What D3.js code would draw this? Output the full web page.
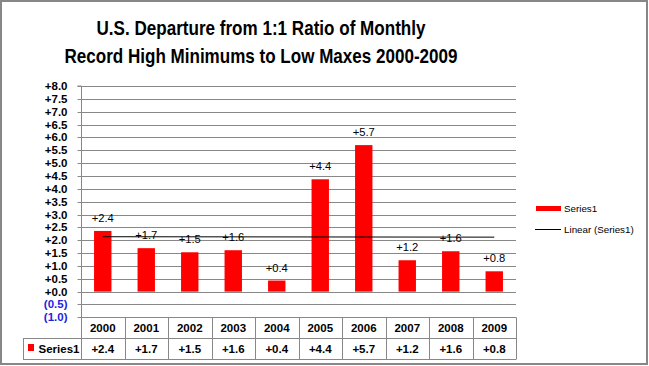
<!DOCTYPE html>
<html>
<head>
<meta charset="utf-8">
<script src="https://cdn.jsdelivr.net/npm/d3@7"></script>
<style>
  html, body { margin: 0; padding: 0; background: #fff; }
  svg { display: block; }
  text { font-family: "Liberation Sans", Arial, sans-serif; }
</style>
</head>
<body>
<svg id="chart" width="649" height="366"></svg>
<script>
// ---- data ----
const years = ["2000","2001","2002","2003","2004","2005","2006","2007","2008","2009"];
const values = [2.36, 1.69, 1.53, 1.61, 0.43, 4.37, 5.70, 1.22, 1.57, 0.79];
const seriesName = "Series1";
const trendName = "Linear (Series1)";
const titleLines = ["U.S. Departure from 1:1 Ratio of Monthly", "Record High Minimums  to Low Maxes 2000-2009"];
const yTicks = [-1, -0.5, 0, 0.5, 1, 1.5, 2, 2.5, 3, 3.5, 4, 4.5, 5, 5.5, 6, 6.5, 7, 7.5, 8];

// ---- layout ----
const svg = d3.select("#chart");
const plotL = 81, plotR = 516, plotT = 86, plotB = 317.3;
const rowH1 = 338, rowH2 = 358.5;
const gridColor = "#888888";
const boldSize = 11.5;

const fmtVal = v => v < 0 ? "(" + Math.abs(v).toFixed(1) + ")" : "+" + v.toFixed(1);

const y = d3.scaleLinear().domain([-1, 8]).range([plotB, plotT]);
const x = d3.scaleBand().domain(years).range([plotL, plotR]).paddingInner(0.6).paddingOuter(0.3);
const col = d3.scaleBand().domain(years).range([plotL, plotR]).padding(0);

// outer border
svg.append("rect").attr("x", 1).attr("y", 1).attr("width", 646).attr("height", 363)
  .attr("fill", "#fff").attr("stroke", "#878787").attr("stroke-width", 2);

// title
svg.append("g").selectAll("text").data(titleLines).join("text")
  .attr("x", 261).attr("y", (d, i) => 34.5 + i * 28.5)
  .attr("text-anchor", "middle")
  .attr("font-size", 20.5).attr("font-weight", "bold").attr("fill", "#000")
  .attr("textLength", (d, i) => i === 0 ? 329 : 393)
  .attr("lengthAdjust", "spacingAndGlyphs")
  .text(d => d);

// gridlines
svg.append("g").selectAll("line").data(yTicks).join("line")
  .attr("x1", plotL).attr("x2", plotR)
  .attr("y1", d => Math.round(y(d)) + 0.5).attr("y2", d => Math.round(y(d)) + 0.5)
  .attr("stroke", gridColor).attr("stroke-width", 1);

// y axis
const yAxis = d3.axisLeft(y).tickValues(yTicks).tickSize(4).tickPadding(10).tickFormat(fmtVal);
const gy = svg.append("g").attr("transform", `translate(${plotL + 0.5},0)`).call(yAxis);
gy.select(".domain").attr("stroke", gridColor).attr("d", `M-4,${y(8)}H0V${plotB}`);
gy.selectAll(".tick line").attr("stroke", gridColor);
gy.selectAll(".tick").attr("transform", d => `translate(0,${Math.round(y(d)) + 0.5})`);
gy.selectAll(".tick text")
  .attr("font-family", "'Liberation Sans', Arial, sans-serif")
  .attr("font-size", boldSize).attr("font-weight", "bold")
  .attr("fill", d => d < 0 ? "#1f1fe0" : "#000");

// bars
svg.append("g").selectAll("rect").data(values).join("rect")
  .attr("x", (d, i) => x(years[i])).attr("width", x.bandwidth())
  .attr("y", d => y(d)).attr("height", d => y(0) - y(d))
  .attr("fill", "#ff0000");

// trend line (linear regression of the series)
const n = values.length;
const xs = d3.range(n);
const mx = d3.mean(xs), my = d3.mean(values);
const slope = d3.sum(xs, i => (i - mx) * (values[i] - my)) / d3.sum(xs, i => (i - mx) ** 2);
const icpt = my - slope * mx;
svg.append("line")
  .attr("x1", x(years[0]) + x.bandwidth() / 2).attr("x2", x(years[n - 1]) + x.bandwidth() / 2)
  .attr("y1", y(icpt)).attr("y2", y(icpt + slope * (n - 1)))
  .attr("stroke", "#000").attr("stroke-width", 1);

// data labels
svg.append("g").selectAll("text").data(values).join("text")
  .attr("x", (d, i) => x(years[i]) + x.bandwidth() / 2)
  .attr("y", d => y(d) - 9)
  .attr("text-anchor", "middle")
  .attr("font-size", 11.2).attr("fill", "#000")
  .text(d => fmtVal(d));

// data table
const tg = svg.append("g");
[[plotL, plotR, rowH1], [23, plotR, rowH1], [23, plotR, rowH2]].forEach(([a, b, yy]) => {
  tg.append("line").attr("x1", a).attr("x2", b).attr("y1", Math.round(yy) + 0.5).attr("y2", Math.round(yy) + 0.5)
    .attr("stroke", gridColor);
});
const vx = years.map(yv => col(yv)).concat([plotR]);
tg.selectAll("line.v").data(vx).join("line").attr("class", "v")
  .attr("x1", d => Math.round(d) + 0.5).attr("x2", d => Math.round(d) + 0.5)
  .attr("y1", plotB).attr("y2", Math.round(rowH2) + 0.5)
  .attr("stroke", gridColor);
tg.append("line").attr("x1", 23.5).attr("x2", 23.5).attr("y1", Math.round(rowH1) + 0.5).attr("y2", Math.round(rowH2) + 0.5)
  .attr("stroke", gridColor);
tg.selectAll("text.yr").data(years).join("text").attr("class", "yr")
  .attr("x", d => col(d) + col.bandwidth() / 2).attr("y", 332)
  .attr("text-anchor", "middle").attr("font-size", boldSize).attr("font-weight", "bold")
  .text(d => d);
tg.selectAll("text.val").data(values).join("text").attr("class", "val")
  .attr("x", (d, i) => col(years[i]) + col.bandwidth() / 2).attr("y", 352.5)
  .attr("text-anchor", "middle").attr("font-size", boldSize).attr("font-weight", "bold")
  .text(d => fmtVal(d));
tg.append("rect").attr("x", 28).attr("y", 344).attr("width", 6).attr("height", 7).attr("fill", "#ff0000");
tg.append("text").attr("x", 38.5).attr("y", 352.5).attr("font-size", boldSize).attr("font-weight", "bold").text(seriesName);

// legend
const lg = svg.append("g");
lg.append("rect").attr("x", 536).attr("y", 206).attr("width", 25).attr("height", 5).attr("fill", "#ff0000");
lg.append("text").attr("x", 564).attr("y", 212).attr("font-size", 9.8).text(seriesName);
lg.append("line").attr("x1", 535).attr("x2", 561).attr("y1", 229.5).attr("y2", 229.5).attr("stroke", "#000");
lg.append("text").attr("x", 564).attr("y", 233).attr("font-size", 9.8).text(trendName);
</script>
</body>
</html>
